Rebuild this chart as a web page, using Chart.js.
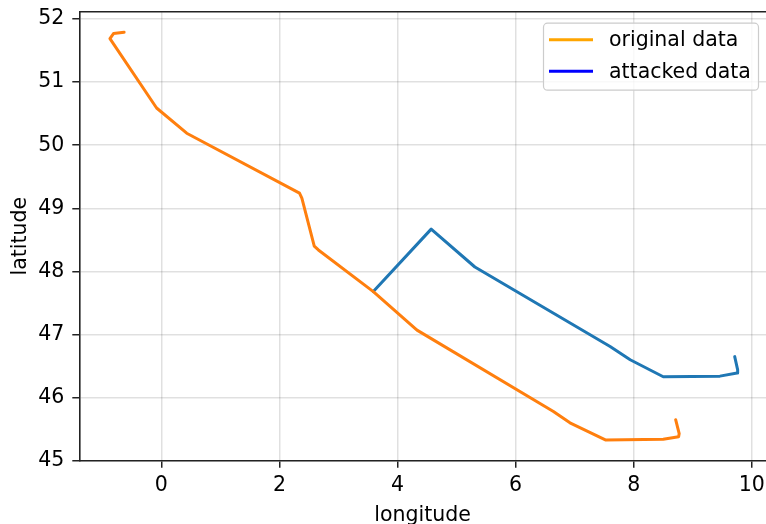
<!DOCTYPE html>
<html>
<head>
<meta charset="utf-8">
<script src="https://cdn.jsdelivr.net/npm/chart.js@4"></script>
<style>
html,body{margin:0;padding:0;background:#fff;}
#wrap{width:766px;height:524px;position:relative;}
</style>
</head>
<body>
<div id="wrap"><canvas id="c" width="766" height="524"></canvas></div>
<script>
// ---- data ----
const seriesLabels = ['original data', 'attacked data'];
const lonOrig = [-0.63, -0.81, -0.87, -0.08, 0.43, 2.34, 2.38, 2.59, 2.66, 3.59, 4.33, 6.64, 6.92, 7.52, 8.50, 8.76, 8.77, 8.71];
const latOrig = [51.79, 51.77, 51.69, 50.59, 50.19, 49.24, 49.16, 48.40, 48.34, 47.68, 47.07, 45.78, 45.60, 45.33, 45.34, 45.38, 45.43, 45.65];
const lonAtk = [3.59, 4.57, 5.31, 7.60, 7.94, 8.50, 9.46, 9.75, 9.76, 9.71];
const latAtk = [47.68, 48.67, 48.07, 46.81, 46.60, 46.33, 46.34, 46.39, 46.44, 46.65];
const xTicks = [0, 2, 4, 6, 8, 10];
const yTicks = [45, 46, 47, 48, 49, 50, 51, 52];
const lineColors = ['#ff7f0e', '#1f77b4'];
const legendColors = ['#ffa500', '#0000ff'];

const FONT = "'DejaVu Sans', sans-serif";
const FS = 20.5;
const toPts = (xs, ys) => xs.map((x, i) => ({x: x, y: ys[i]}));

const frame = {
  id: 'frame',
  afterDatasetsDraw(chart) {
    const {ctx, chartArea: a} = chart;
    ctx.save();
    ctx.strokeStyle = '#222';
    ctx.lineWidth = 1.6;
    ctx.beginPath();
    ctx.moveTo(a.left, a.top);
    ctx.lineTo(a.right + 1, a.top);
    ctx.stroke();
    // legend
    const bx = a.right - 223, by = a.top + 11, bw = 215, bh = 67;
    ctx.fillStyle = 'rgba(255,255,255,0.8)';
    ctx.strokeStyle = '#cccccc';
    ctx.lineWidth = 1.2;
    ctx.beginPath();
    ctx.roundRect(bx + 0.5, by + 0.5, bw, bh, 4);
    ctx.fill();
    ctx.stroke();
    ctx.font = FS + 'px ' + FONT;
    ctx.textBaseline = 'middle';
    ctx.textAlign = 'left';
    seriesLabels.forEach((lab, i) => {
      const yy = by + 17 + i * 31.5;
      ctx.strokeStyle = legendColors[i];
      ctx.lineWidth = 3.1;
      ctx.beginPath();
      ctx.moveTo(bx + 6, yy);
      ctx.lineTo(bx + 50, yy);
      ctx.stroke();
      ctx.fillStyle = '#000';
      ctx.fillText(lab, bx + 66, yy + 1);
    });
    ctx.restore();
  }
};

const noPad = ax => { ax.paddingTop = 0; ax.paddingBottom = 0; ax.paddingLeft = 0; ax.paddingRight = 0; };

new Chart(document.getElementById('c'), {
  type: 'scatter',
  data: {
    datasets: [
      {label: seriesLabels[0], data: toPts(lonOrig, latOrig), showLine: true, borderColor: lineColors[0], backgroundColor: lineColors[0], borderWidth: 3, pointRadius: 0, tension: 0, borderJoinStyle: 'round', borderCapStyle: 'round'},
      {label: seriesLabels[1], data: toPts(lonAtk, latAtk), showLine: true, borderColor: lineColors[1], backgroundColor: lineColors[1], borderWidth: 3, pointRadius: 0, tension: 0, borderJoinStyle: 'round', borderCapStyle: 'round'}
    ]
  },
  options: {
    responsive: false,
    animation: false,
    devicePixelRatio: 1,
    layout: {padding: {top: 11.7, right: 0, left: 0, bottom: 0}},
    plugins: {legend: {display: false}, tooltip: {enabled: false}},
    scales: {
      x: {
        type: 'linear', min: -1.389, max: 10.24,
        afterBuildTicks: ax => { ax.ticks = xTicks.map(v => ({value: v})); },
        afterFit: ax => { ax.height = 63.3; noPad(ax); },
        grid: {color: 'rgba(0,0,0,0.12)', lineWidth: 1.5, tickColor: '#222', tickLength: 7, tickWidth: 1.5},
        border: {color: '#222', width: 1.6},
        ticks: {color: '#000', font: {family: FONT, size: FS}, padding: 6, maxRotation: 0},
        title: {display: true, text: 'longitude', color: '#000', font: {family: FONT, size: FS, lineHeight: 1.0}, padding: {top: 0, bottom: -2}}
      },
      y: {
        type: 'linear', min: 45, max: 52.116,
        afterBuildTicks: ax => { ax.ticks = yTicks.map(v => ({value: v})); },
        afterFit: ax => { ax.width = 79.3; noPad(ax); },
        grid: {color: 'rgba(0,0,0,0.12)', lineWidth: 1.5, tickColor: '#222', tickLength: 7, tickWidth: 1.5},
        border: {color: '#222', width: 1.6},
        ticks: {color: '#000', font: {family: FONT, size: FS}, padding: 8},
        title: {display: true, text: 'latitude', color: '#000', font: {family: FONT, size: FS}, padding: {top: 8.5, bottom: 0}}
      }
    }
  },
  plugins: [frame]
});
</script>
</body>
</html>
